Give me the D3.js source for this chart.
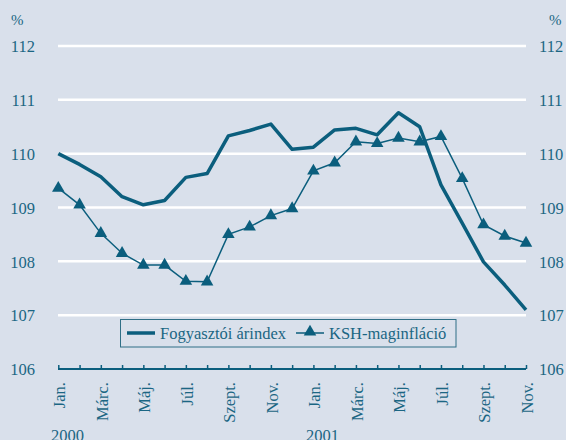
<!DOCTYPE html>
<html><head><meta charset="utf-8">
<script src="https://cdn.jsdelivr.net/npm/d3@7"></script>
<style>
html,body{margin:0;padding:0;background:#d9e0eb;}
svg{display:block;}
</style></head><body>
<svg id="c" width="566" height="440"></svg>
<script>
const months = ["Jan.","Febr.","Márc.","Ápr.","Máj.","Jún.","Júl.","Aug.","Szept.","Okt.","Nov.","Dec.",
                "Jan.","Febr.","Márc.","Ápr.","Máj.","Jún.","Júl.","Aug.","Szept.","Okt.","Nov."];
const years = ["2000","2001"];
const fogyasztoi = [110.00,109.80,109.57,109.20,109.05,109.13,109.56,109.63,110.33,110.43,110.55,110.08,
                    110.12,110.44,110.47,110.35,110.76,110.50,109.42,108.71,107.99,107.56,107.10];
const ksh = [109.36,109.05,108.52,108.15,107.93,107.93,107.63,107.62,108.50,108.64,108.85,108.98,
             109.68,109.83,110.22,110.19,110.29,110.22,110.32,109.54,108.68,108.47,108.34];
const yTicks = [106,107,108,109,110,111,112];
const seriesNames = ["Fogyasztói árindex","KSH-maginfláció"];

const FONT = "\"Liberation Serif\",\"Times New Roman\",serif";
const TXT = "#1b6683";
const col = "#0b5e7d";
const svg = d3.select("#c");
const x = d3.scaleLinear().domain([0, months.length-1]).range([58.3, 526]);
const y = d3.scaleLinear().domain([106,112]).range([369, 46]);

function st(sel, size){
  return sel.style("font-family",FONT).style("font-size",size||"16.5px").style("fill",TXT);
}

// gridlines
svg.append("g").selectAll("line").data(yTicks.filter(d=>d>106)).join("line")
  .attr("x1",58).attr("x2",526).attr("y1",d=>y(d)).attr("y2",d=>y(d))
  .attr("stroke","#ffffff").attr("stroke-width",2.5);

// left and right tick labels
const yl = d3.axisLeft(y).tickValues(yTicks).tickSize(0).tickPadding(0).tickFormat(d3.format("d"));
const gl = svg.append("g").attr("transform","translate(35,0)").call(yl);
gl.select(".domain").remove();
st(gl.selectAll("text")).attr("dy","0.35em");
const yr = d3.axisRight(y).tickValues(yTicks).tickSize(0).tickPadding(0).tickFormat(d3.format("d"));
const gr = svg.append("g").attr("transform","translate(539,0)").call(yr);
gr.select(".domain").remove();
st(gr.selectAll("text")).attr("dy","0.35em");
st(svg.append("text").attr("x",11).attr("y",25).text("%"),"15px");
st(svg.append("text").attr("x",549).attr("y",25).text("%"),"15px");

// x axis
const xa = d3.axisBottom(x).tickValues(d3.range(months.length)).tickSize(-4).tickFormat("");
const gx = svg.append("g").attr("transform","translate(0,369)").call(xa);
gx.select(".domain").attr("stroke",col).attr("stroke-width",2).attr("d","M58,0H526");
gx.selectAll(".tick line").attr("stroke",col).attr("stroke-width",1.5);
st(svg.append("g").selectAll("text").data(months.map((m,i)=>({m,i})).filter(d=>d.i%2===0)).join("text")
  .attr("transform",d=>`translate(${x(d.i)+1},382) rotate(-90)`)
  .attr("text-anchor","end").attr("dy","0.35em").text(d=>d.m));
st(svg.append("text").attr("x",51).attr("y",441).text(years[0]));
st(svg.append("text").attr("x",306).attr("y",441).text(years[1]));

// lines
const lineF = d3.line().x((d,i)=>x(i)).y(d=>y(d));
svg.append("path").datum(ksh).attr("d",lineF).attr("fill","none").attr("stroke",col).attr("stroke-width",1.5);
const tri = d3.symbol().type(d3.symbolTriangle).size(68);
svg.append("g").selectAll("path").data(ksh).join("path")
  .attr("transform",(d,i)=>`translate(${x(i)},${y(d)})`).attr("d",tri).attr("fill",col);
svg.append("path").datum(fogyasztoi).attr("d",lineF).attr("fill","none").attr("stroke",col)
  .attr("stroke-width",3.5).attr("stroke-linejoin","round");

// legend
const lg = svg.append("g");
lg.append("rect").attr("x",120.5).attr("y",319.5).attr("width",335.5).attr("height",27.5)
  .attr("fill","#d9e0eb").attr("stroke","#2f6f86").attr("stroke-width",1);
lg.append("line").attr("x1",127).attr("x2",155).attr("y1",333).attr("y2",333).attr("stroke",col).attr("stroke-width",3.5);
st(lg.append("text").attr("x",160).attr("y",339).text(seriesNames[0]));
lg.append("line").attr("x1",296).attr("x2",324).attr("y1",333).attr("y2",333).attr("stroke",col).attr("stroke-width",1.5);
lg.append("path").attr("transform","translate(310,332)").attr("d",tri).attr("fill",col);
st(lg.append("text").attr("x",329).attr("y",339).text(seriesNames[1]));
</script>
</body></html>
